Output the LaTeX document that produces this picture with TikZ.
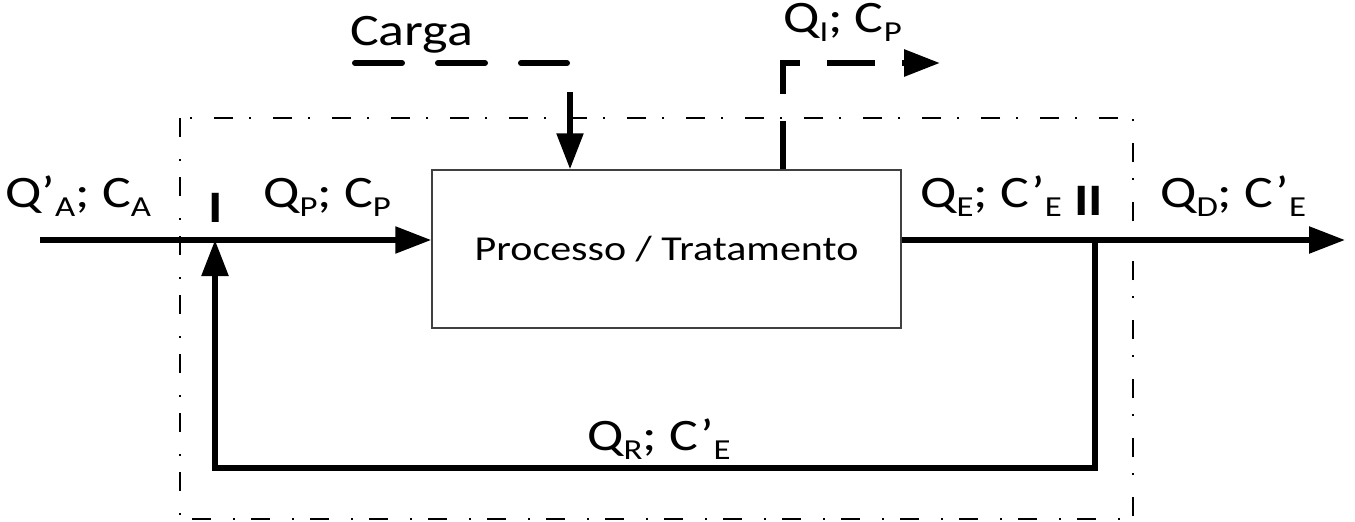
\documentclass[tikz,border=0pt]{standalone}
\usepackage{fontspec}
\setmainfont{Carlito}[FakeStretch=1.2]
\usetikzlibrary{arrows.meta}
\newcommand\sbs[1]{\raisebox{-9.5pt}{\fontsize{29}{32}\selectfont #1}}
\tikzset{
  flow/.style={line width=5.5pt, -{Triangle[length=36pt,width=26pt]}},
  lbl/.style={anchor=base west, inner sep=0pt, font=\fontsize{45}{52}\selectfont},
  bound/.style={line width=2pt, dash pattern=on 19pt off 22pt on 2pt off 16pt},
  procbox/.style={draw=black!75, line width=1.5pt, minimum width=469pt, minimum height=158pt, inner sep=0pt, font=\fontsize{35}{40}\selectfont},
  cargadash/.style={line width=6pt, line cap=round, dash pattern=on 47pt off 36pt},
  qidash/.style={flow, line width=6pt, dash pattern=on 48pt off 27pt}
}
\begin{document}
\begin{tikzpicture}[x=1pt,y=-1pt]
\useasboundingbox (0,0) rectangle (1355,522);
\draw[bound] (180,118) rectangle (1133,519);
\node[procbox] (proc) at (666.5,249) {Processo / Tratamento};
\coordinate (inA) at (40,240);
\coordinate (j1) at (215,240);
\coordinate (j2) at (1095,240);
\coordinate (outD) at (1345,240);
\coordinate (r1) at (1095,468);
\coordinate (r2) at (215,468);
\draw[flow] (inA) -- (inA -| proc.west);
\draw[flow] (proc.east |- outD) -- (outD);
\draw[flow] (j2) -- (r1) -- (r2) -- (j1);
\coordinate (cg1) at (355,63);
\coordinate (cg2) at (567,63);
\draw[cargadash] (cg1) -- (cg2);
\coordinate (cga) at (570,92);
\draw[flow] (cga) -- (cga |- proc.north);
\coordinate (qc) at (783,63);
\coordinate (qend) at (940,63);
\draw[qidash] (qc |- proc.north) -- (qc) -- (qend);
\node[lbl] (lA) at (5,207) {Q’\sbs{A}; C\sbs{A}};
\node[lbl] (lP) at (263,207) {Q\sbs{P}; C\sbs{P}};
\node[lbl] (lE) at (920,207) {Q\sbs{E}; C’\sbs{E}};
\node[lbl] (lD) at (1160,207) {Q\sbs{D}; C’\sbs{E}};
\node[lbl] (lR) at (587,450) {Q\sbs{R}; C’\sbs{E}};
\node[lbl] (lI) at (783,32) {Q\sbs{I}; C\sbs{P}};
\node[lbl] (carga) at (350,45) {Carga};
\node[lbl] (m1) at (208,222) {\textbf{I}};
\node[lbl] (m2) at (1074,215) {\textbf{II}};
\end{tikzpicture}
\end{document}
